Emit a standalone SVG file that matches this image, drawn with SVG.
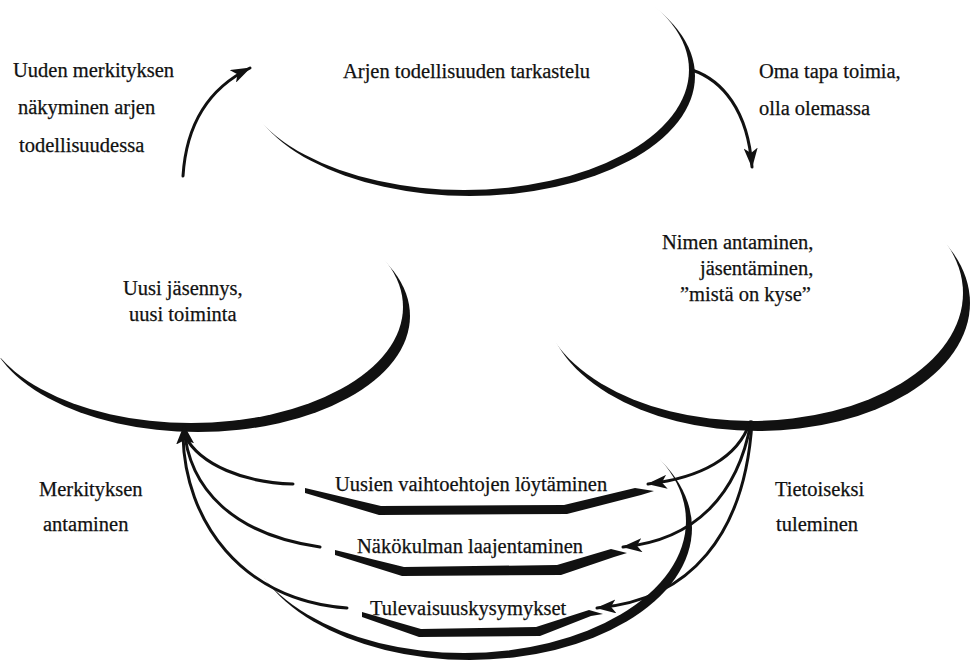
<svg xmlns="http://www.w3.org/2000/svg" width="970" height="661" viewBox="0 0 970 661">
  <style>
    text { font-family: "Liberation Serif", "Times New Roman", serif; font-size: 20.5px; fill: #111; stroke: #111; stroke-width: 0.25; }
    .line { fill: none; stroke: #111; stroke-width: 3; stroke-linecap: round; }
    .brush { fill: #111; }
  </style>
  <defs>
    <marker id="head" markerUnits="userSpaceOnUse" viewBox="0 0 20 14" refX="19" refY="7" markerWidth="20" markerHeight="14" orient="auto">
      <path d="M0,0 L20,7 L0,14 L5,7 Z" fill="#111"/>
    </marker>
    <marker id="headBack" markerUnits="userSpaceOnUse" viewBox="0 0 19 18" refX="18" refY="9" markerWidth="19" markerHeight="18" orient="auto-start-reverse">
      <path d="M0,0 L19,9 L0,18 L4,9 Z" fill="#111"/>
    </marker>
    <!-- each brush crescent = outer ellipse minus a slightly shifted copy -->
    <mask id="cutTop" maskUnits="userSpaceOnUse" x="0" y="0" width="970" height="661">
      <rect width="970" height="661" fill="#fff"/>
      <ellipse cx="464" cy="70" rx="225" ry="120" fill="#000"/>
    </mask>
    <mask id="cutLeft" maskUnits="userSpaceOnUse" x="0" y="0" width="970" height="661">
      <rect width="970" height="661" fill="#fff"/>
      <ellipse cx="191" cy="307" rx="212" ry="116" fill="#000"/>
    </mask>
    <mask id="cutRight" maskUnits="userSpaceOnUse" x="0" y="0" width="970" height="661">
      <rect width="970" height="661" fill="#fff"/>
      <ellipse cx="751" cy="293" rx="212" ry="128" fill="#000"/>
    </mask>
    <mask id="cutBowl" maskUnits="userSpaceOnUse" x="0" y="0" width="970" height="661">
      <rect width="970" height="661" fill="#fff"/>
      <ellipse cx="464" cy="521" rx="222" ry="132" fill="#000"/>
    </mask>
  </defs>

  <g id="node-arki">
    <ellipse class="brush" cx="470" cy="76" rx="225" ry="120" mask="url(#cutTop)"/>
    <text x="343" y="78">Arjen todellisuuden tarkastelu</text>
  </g>

  <g id="node-uusi">
    <ellipse class="brush" cx="198" cy="316" rx="212" ry="116" mask="url(#cutLeft)"/>
    <text x="123" y="295">Uusi jäsennys,</text>
    <text x="129" y="321">uusi toiminta</text>
  </g>

  <g id="node-nimi">
    <ellipse class="brush" cx="758" cy="303" rx="212" ry="128" mask="url(#cutRight)"/>
    <text x="662" y="249">Nimen antaminen,</text>
    <text x="700" y="275">jäsentäminen,</text>
    <text x="680" y="301">”mistä on kyse”</text>
  </g>

  <g id="node-bowl">
    <ellipse class="brush" cx="470" cy="528" rx="222" ry="132" mask="url(#cutBowl)"/>
  </g>

  <g id="node-vaihtoehdot">
    <path class="brush" d="M305,488 L381,506 L564,505 L635,488 L654,491 L641,495 L567,514 L379,515 L305,493 Z"/>
    <text x="335" y="491">Uusien vaihtoehtojen löytäminen</text>
  </g>

  <g id="node-nakokulma">
    <path class="brush" d="M335,550 L404,567 L557,565 L611,549 L627,553 L614,557 L561,575 L402,576 L335,555 Z"/>
    <text x="357" y="553">Näkökulman laajentaminen</text>
  </g>

  <g id="node-tulevaisuus">
    <path class="brush" d="M362,612 L421,629 L536,627 L589,610 L603,614 L591,616 L540,636 L419,637 L362,617 Z"/>
    <text x="370" y="615">Tulevaisuuskysymykset</text>
  </g>

  <g id="labels">
    <text x="13" y="77">Uuden merkityksen</text>
    <text x="18" y="114">näkyminen arjen</text>
    <text x="19" y="152">todellisuudessa</text>
    <text x="759" y="78">Oma tapa toimia,</text>
    <text x="759" y="115">olla olemassa</text>
    <text x="39" y="496">Merkityksen</text>
    <text x="43" y="531">antaminen</text>
    <text x="775" y="496">Tietoiseksi</text>
    <text x="776" y="531">tuleminen</text>
  </g>

  <g id="connectors">
    <path class="line" d="M183,176 C186,128 205,90 250,68" marker-end="url(#head)"/>
    <path class="line" d="M692,70 C722,80 748,110 752,167" marker-end="url(#head)"/>

    <path class="line" d="M750,422 C738,458 700,478 648,484" marker-end="url(#head)"/>
    <path class="line" d="M751,422 C738,495 695,540 623,547" marker-end="url(#head)"/>
    <path class="line" d="M752,422 C745,535 690,600 597,608" marker-end="url(#head)"/>

    <path class="line" d="M184,426 C188,490 235,535 320,547" marker-start="url(#headBack)"/>
    <path class="line" d="M185,436 C200,465 245,483 293,484"/>
    <path class="line" d="M183,436 C185,520 240,600 347,608"/>
  </g>
</svg>
